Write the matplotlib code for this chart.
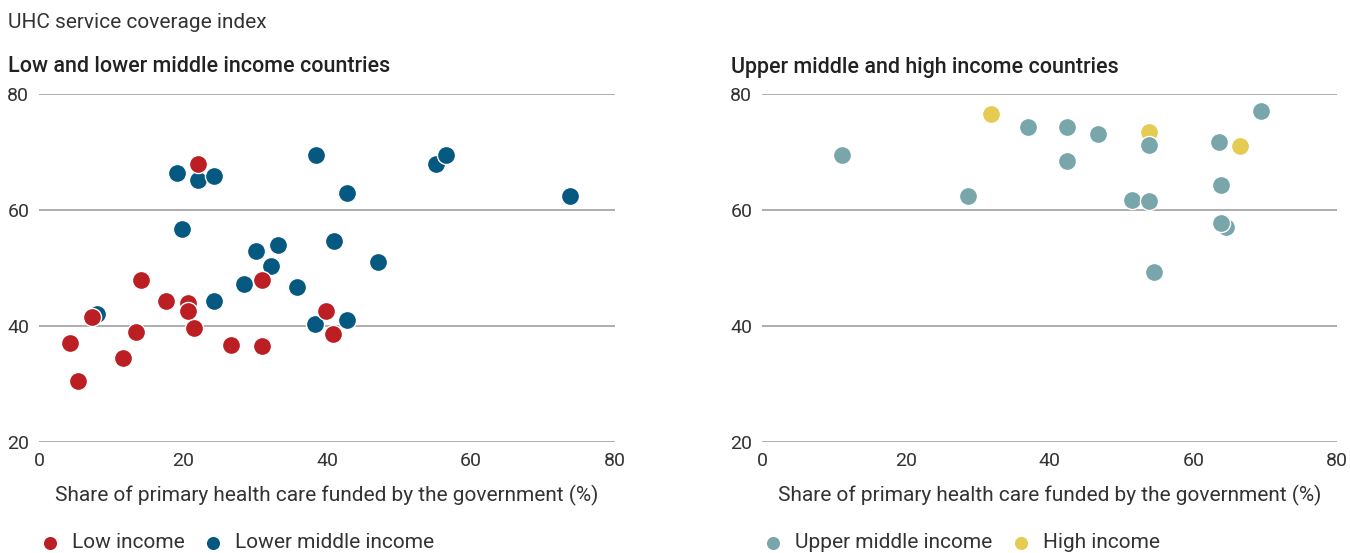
import matplotlib.pyplot as plt

# ----------------------------------------------------------------------------------------------------------------------
#  DATA
# ----------------------------------------------------------------------------------------------------------------------
low_x  = [4.3, 5.4, 7.3, 11.7, 13.5, 14.2, 17.6, 20.7, 20.7, 21.5, 22.1, 26.7, 31.0, 31.0, 39.8, 40.9]
low_y  = [37.1, 30.5, 41.5, 34.5, 39.0, 47.9, 44.3, 43.9, 42.6, 39.6, 68.0, 36.8, 36.5, 48.0, 42.6, 38.7]

lmi_x  = [8.1, 19.1, 22.1, 24.3, 19.9, 24.3, 28.5, 30.2, 33.2, 32.2, 35.9, 38.5, 38.3, 42.8, 42.8, 41.0, 47.1,
          55.2, 56.5, 73.7]
lmi_y  = [42.1, 66.4, 65.1, 65.9, 56.8, 44.3, 47.3, 53.0, 53.9, 50.3, 46.7, 69.5, 40.3, 41.1, 63.0, 54.6, 51.0,
          67.9, 69.4, 62.5]

umi_x  = [11.1, 28.7, 37.0, 42.5, 42.4, 46.7, 51.5, 53.9, 53.9, 54.5, 63.6, 63.9, 64.5, 63.9, 69.4]
umi_y  = [69.5, 62.5, 74.3, 74.3, 68.5, 73.1, 61.7, 61.6, 71.2, 49.3, 71.7, 64.3, 57.1, 57.8, 77.0]

high_x = [31.8, 53.9, 66.5]
high_y = [76.5, 73.4, 71.0]

ticks   = [0, 20, 40, 60, 80]
yticks  = [20, 40, 60, 80]
x_label = 'Share of primary health care funded by the government (%)'

# ----------------------------------------------------------------------------------------------------------------------
#  PLOT
# ----------------------------------------------------------------------------------------------------------------------
plt.rcParams['font.family'] = ['Roboto', 'DejaVu Sans']
text_color = '#333333'
grid_color = '#a0a0a0'

W, H = 1350, 553
fig = plt.figure(figsize=(13.5, 5.53), dpi=100)


def px_axes(x0, x1, y_top, y_bot):
    return fig.add_axes([x0 / W, (H - y_bot) / H, (x1 - x0) / W, (y_bot - y_top) / H])


def style_axis(ax):
    ax.set_xlim(0, 80)
    ax.set_ylim(20, 80)
    ax.set_xticks(ticks)
    ax.set_yticks(yticks)
    for s in ax.spines.values():
        s.set_visible(False)
    ax.yaxis.grid(True, color=grid_color, linewidth=1.2)
    ax.set_axisbelow(True)
    ax.tick_params(length=0, labelsize=14, colors=text_color)
    ax.tick_params(axis='x', pad=7)
    ax.tick_params(axis='y', pad=7)
    ax.set_xlabel(x_label, fontsize=15, color=text_color, labelpad=11)


ax1 = px_axes(39, 615, 94, 442)
ax2 = px_axes(762, 1337, 94, 442)

ms = 170
ax1.scatter(lmi_x, lmi_y, s=ms, color='#05587f', edgecolor='white', linewidth=1, label='Lower middle income', zorder=3)
ax1.scatter(low_x, low_y, s=ms, color='#bb1f24', edgecolor='white', linewidth=1, label='Low income', zorder=4)
ax2.scatter(high_x, high_y, s=ms, color='#e5cb52', edgecolor='white', linewidth=1, label='High income', zorder=3)
ax2.scatter(umi_x, umi_y, s=ms, color='#78a6ab', edgecolor='white', linewidth=1, label='Upper middle income', zorder=4)

style_axis(ax1)
style_axis(ax2)

fig.text(8 / W, 1 - 22 / H, 'UHC service coverage index', fontsize=15, color=text_color, va='center')
fig.text(8 / W, 1 - 67 / H, 'Low and lower middle income countries', fontsize=15.5, color='#222222',
         fontweight='medium', va='center')
fig.text(731 / W, 1 - 67 / H, 'Upper middle and high income countries', fontsize=15.5, color='#222222',
         fontweight='medium', va='center')

# legends below each panel, low income first
for ax, x0 in [(ax1, 40), (ax2, 763)]:
    handles, labels = ax.get_legend_handles_labels()
    ax.legend(handles[::-1], labels[::-1],
              loc='center left', bbox_to_anchor=(x0 / W, 1 - 543 / H), bbox_transform=fig.transFigure,
              ncol=2, frameon=False, fontsize=15, handlelength=1.0, handletextpad=0.55, columnspacing=0.85,
              markerscale=0.8, borderaxespad=0, borderpad=0, labelcolor=text_color)

fig.savefig('out.png', dpi=100)
